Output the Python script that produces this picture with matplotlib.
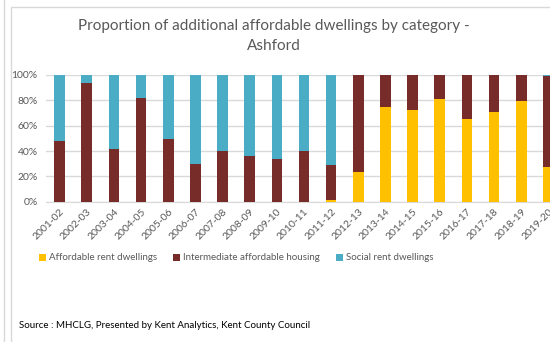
import matplotlib
matplotlib.use("Agg")
import matplotlib.pyplot as plt
import numpy as np
from matplotlib.lines import Line2D
from matplotlib.patches import Rectangle

plt.rcParams['font.family'] = ['Lato', 'DejaVu Sans']

years = ["2001-02", "2002-03", "2003-04", "2004-05", "2005-06", "2006-07",
         "2007-08", "2008-09", "2009-10", "2010-11", "2011-12", "2012-13",
         "2013-14", "2014-15", "2015-16", "2016-17", "2017-18", "2018-19",
         "2019-20"]
affordable_rent = [0, 0, 0, 0, 0, 0, 0, 0, 0, 0, 1.5, 23.7, 74.5, 72.4,
                   80.8, 65.3, 71.0, 79.5, 27.2]
intermediate = [48.1, 93.4, 41.3, 82.1, 49.2, 30.0, 39.8, 36.3, 33.4, 39.8,
                27.7, 76.3, 25.5, 27.6, 19.2, 34.7, 29.0, 20.5, 72.0]
social_rent = [51.9, 6.6, 58.7, 17.9, 50.8, 70.0, 60.2, 63.7, 66.6, 60.2,
               70.8, 0, 0, 0, 0, 0, 0, 0, 0.8]

series_names = ["Affordable rent dwellings", "Intermediate affordable housing",
                "Social rent dwellings"]
colors = ["#FFC000", "#772C2A", "#4BACC6"]
text_grey = "#595959"

fig = plt.figure(figsize=(5.5, 3.42), dpi=100)
W, H = 550, 342

# outer frame lines
fig.add_artist(Line2D([3.5 / W, 3.5 / W], [0, 1], color="#D9D9D9", lw=1.0))
fig.add_artist(Rectangle((10.5 / W, -0.1), 1.2, 1 - 6.5 / H + 0.1,
                         transform=fig.transFigure, fill=False,
                         edgecolor="#D9D9D9", lw=1.0))

ax = fig.add_axes([46 / W, 1 - 201.7 / H, 516 / W, (201.7 - 75) / H])
x = np.arange(len(years))
bottom = np.zeros(len(years))
for vals, name, c in zip([affordable_rent, intermediate, social_rent],
                         series_names, colors):
    ax.bar(x, vals, width=0.39, bottom=bottom, color=c, label=name, zorder=3)
    bottom += np.array(vals)

ax.set_xlim(-0.5, len(years) - 0.5)
ax.set_ylim(0, 100)
ax.set_yticks(np.arange(0, 101, 20))
ax.set_yticklabels([f"{v}%" for v in range(0, 101, 20)])
ax.yaxis.grid(True, color="#D9D9D9", lw=1.0, zorder=0)
ax.set_xticks(x)
ax.set_xticklabels(years, rotation=45, ha="right", rotation_mode="anchor")
ax.tick_params(axis="both", length=0, colors=text_grey, labelsize=7.5)
ax.tick_params(axis="y", pad=6)
ax.tick_params(axis="x", pad=4)
for s in ["top", "right", "left"]:
    ax.spines[s].set_visible(False)
ax.spines["bottom"].set_color("#D9D9D9")

fig.text(274 / W, 1 - 26 / H, "Proportion of additional affordable dwellings by category -",
         ha="center", va="center", fontsize=11, color=text_grey)
fig.text(274 / W, 1 - 46 / H, "Ashford", ha="center", va="center",
         fontsize=11, color=text_grey)

leg = fig.legend(loc="center left", bbox_to_anchor=(39 / W, 1 - 258 / H),
                 ncol=3, frameon=False, fontsize=7, labelcolor=text_grey,
                 handlelength=0.7, handleheight=0.7, handletextpad=0.3,
                 columnspacing=1.7, borderpad=0, borderaxespad=0)

fig.text(19 / W, 1 - 326 / H,
         "Source : MHCLG, Presented by Kent Analytics, Kent County Council",
         ha="left", va="center", fontsize=7, color="#000000")

fig.savefig("out.png", dpi=100)
